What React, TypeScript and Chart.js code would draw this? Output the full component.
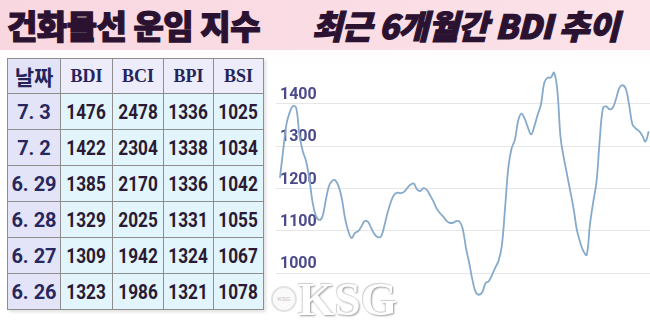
import React, { useEffect, useRef } from "react";
import { Chart, registerables } from "chart.js";

Chart.register(...registerables);

const titleLeft = "건화물선 운임 지수";
const titleRight = "최근 6개월간 BDI 추이";
const tableHeaders = ["날짜", "BDI", "BCI", "BPI", "BSI"];
const dates = ["7. 3", "7. 2", "6. 29", "6. 28", "6. 27", "6. 26"];
const bdi = [1476, 1422, 1385, 1329, 1309, 1323];
const bci = [2478, 2304, 2170, 2025, 1942, 1986];
const bpi = [1336, 1338, 1336, 1331, 1324, 1321];
const bsi = [1025, 1034, 1042, 1055, 1067, 1078];
const yTicks = [1000, 1100, 1200, 1300, 1400];
const yMin = 920;
const yMax = 1480;

// 6-month BDI trend (evenly spaced samples)
const bdiTrend = [
  1225, 1290, 1352, 1380, 1395, 1390, 1325, 1288, 1265, 1224,
  1168, 1136, 1126, 1133, 1170, 1205, 1218, 1219, 1205, 1175,
  1128, 1098, 1083, 1095, 1099, 1111, 1123, 1121, 1106, 1092,
  1085, 1087, 1112, 1143, 1168, 1185, 1190, 1189, 1192, 1201,
  1209, 1212, 1198, 1194, 1201, 1197, 1184, 1170, 1153, 1142,
  1134, 1124, 1119, 1119, 1123, 1122, 1105, 1060, 1024, 984,
  955, 949, 955, 976, 981, 996, 1013, 1029, 1065, 1155,
  1250, 1295, 1315, 1360, 1377, 1365, 1344, 1328, 1348, 1375,
  1399, 1450, 1462, 1462, 1474, 1432, 1320, 1272, 1232, 1193,
  1152, 1102, 1073, 1052, 1043, 1115, 1168, 1215, 1315, 1390,
  1394, 1387, 1391, 1412, 1437, 1444, 1435, 1398, 1352, 1342,
  1336, 1326, 1311, 1335,
];

const colWidths = [53, 52, 51, 50, 50];

function TrendChart() {
  const ref = useRef<HTMLCanvasElement | null>(null);
  useEffect(() => {
    if (!ref.current) return;
    const chart = new Chart(ref.current, {
      type: "line",
      data: {
        datasets: [
          {
            data: bdiTrend.map((v, i) => ({ x: i, y: v })),
            borderColor: "#86aacb",
            borderWidth: 1.8,
            pointRadius: 0,
            tension: 0.4,
            fill: false,
          },
        ],
      },
      options: {
        animation: false,
        responsive: false,
        maintainAspectRatio: false,
        layout: { padding: { left: 3, right: 0, top: 20, bottom: 15 } },
        plugins: { legend: { display: false }, tooltip: { enabled: false } },
        scales: {
          x: { type: "linear", display: false, min: -1.2, max: bdiTrend.length - 0.6 },
          y: {
            min: yMin,
            max: yMax,
            afterBuildTicks: (s: any) => {
              s.ticks = yTicks.map((v) => ({ value: v }));
            },
            border: { display: false },
            grid: { color: "#e6e6e6", drawTicks: false, lineWidth: 1 },
            ticks: {
              mirror: true,
              crossAlign: "far",
              padding: 4,
              labelOffset: -9,
              color: "#4a4a8c",
              font: { family: "Roboto", size: 16, weight: "bold" },
              callback: (v: any) => String(v),
            },
          },
        },
      },
    } as any);
    return () => chart.destroy();
  }, []);
  return (
    <canvas
      ref={ref}
      width={385}
      height={272}
      style={{ position: "absolute", left: 265, top: 50, width: 385, height: 272 }}
    />
  );
}

export default function App() {
  const cellBase: React.CSSProperties = {
    borderRight: "1px solid #8e8e8e",
    borderBottom: "1px solid #8e8e8e",
    display: "flex",
    alignItems: "center",
    justifyContent: "center",
    boxSizing: "border-box",
    whiteSpace: "nowrap",
    overflow: "hidden",
  };
  const titleStyle: React.CSSProperties = {
    position: "absolute",
    top: 4,
    fontFamily: "'Noto Sans CJK KR', sans-serif",
    fontWeight: 900,
    fontSize: 33,
    lineHeight: "42px",
    letterSpacing: -0.5,
    color: "#2b1231",
    WebkitTextStroke: "1.2px #2b1231",
    whiteSpace: "nowrap",
  };
  const rows = dates.map((d, i) => [d, bdi[i], bci[i], bpi[i], bsi[i]]);
  return (
    <div
      style={{
        position: "fixed",
        left: 0,
        top: 0,
        width: 650,
        height: 322,
        overflow: "hidden",
        background: "linear-gradient(to bottom, #fdf4f6 0px, #ffffff 70px)",
      }}
    >
      <div
        style={{
          position: "absolute",
          left: 0,
          top: 0,
          width: 650,
          height: 50,
          background: "linear-gradient(to right, #f9d7e0, #fce2e9)",
        }}
      />
      <div style={{ ...titleStyle, left: 7 }}>{titleLeft}</div>
      <div style={{ ...titleStyle, left: 312, fontStyle: "italic" }}>{titleRight}</div>

      <div
        style={{
          position: "absolute",
          left: 7,
          top: 58,
          display: "grid",
          gridTemplateColumns: colWidths.map((w) => w + "px").join(" "),
          gridTemplateRows: "35px repeat(6, 36px)",
          borderTop: "1px solid #8e8e8e",
          borderLeft: "1px solid #8e8e8e",
          boxShadow: "2px 2px 3px rgba(0,0,0,0.12)",
        }}
      >
        {tableHeaders.map((h, j) => (
          <div
            key={"h" + j}
            style={{
              ...cellBase,
              background: j === 0 ? "#e3e3f7" : "#ececfa",
              color: "#24245a",
              fontFamily: j === 0 ? "'Noto Sans CJK KR', sans-serif" : "'Liberation Serif', serif",
              fontWeight: 700,
              fontSize: j === 0 ? 21 : 18,
            }}
          >
            {h}
          </div>
        ))}
        {rows.map((r, i) =>
          r.map((c, j) => (
            <div
              key={i + "-" + j}
              style={{
                ...cellBase,
                background: j === 0 ? "#e4e4f8" : "#e2f5fc",
                color: j === 0 ? "#27275f" : "#2a1a34",
                fontFamily: "Roboto, sans-serif",
                fontWeight: 700,
                fontSize: j === 0 ? 20 : 21,
              }}
            >
              <span
                style={{
                  display: "inline-block",
                  transform: j === 0 ? "none" : "scaleX(0.82)",
                }}
              >
                {String(c)}
              </span>
            </div>
          ))
        )}
      </div>

      <TrendChart />

      <div
        style={{
          position: "absolute",
          left: 271,
          top: 286,
          width: 22,
          height: 22,
          borderRadius: "50%",
          border: "2px solid #e2e2e2",
          display: "flex",
          alignItems: "center",
          justifyContent: "center",
          fontFamily: "'Liberation Sans', sans-serif",
          fontSize: 6,
          fontWeight: 700,
          color: "#cfcfcf",
          background: "#fafafa",
        }}
      >
        KSG
      </div>
      <div
        style={{
          position: "absolute",
          left: 298,
          top: 275,
          fontFamily: "'Liberation Serif', serif",
          fontWeight: 700,
          fontSize: 47,
          lineHeight: "48px",
          color: "#ffffff",
          textShadow: "1px 1px 2px #9a9a9a, -1px -1px 1px #d0d0d0",
          whiteSpace: "nowrap",
        }}
      >
        KSG
      </div>
    </div>
  );
}
